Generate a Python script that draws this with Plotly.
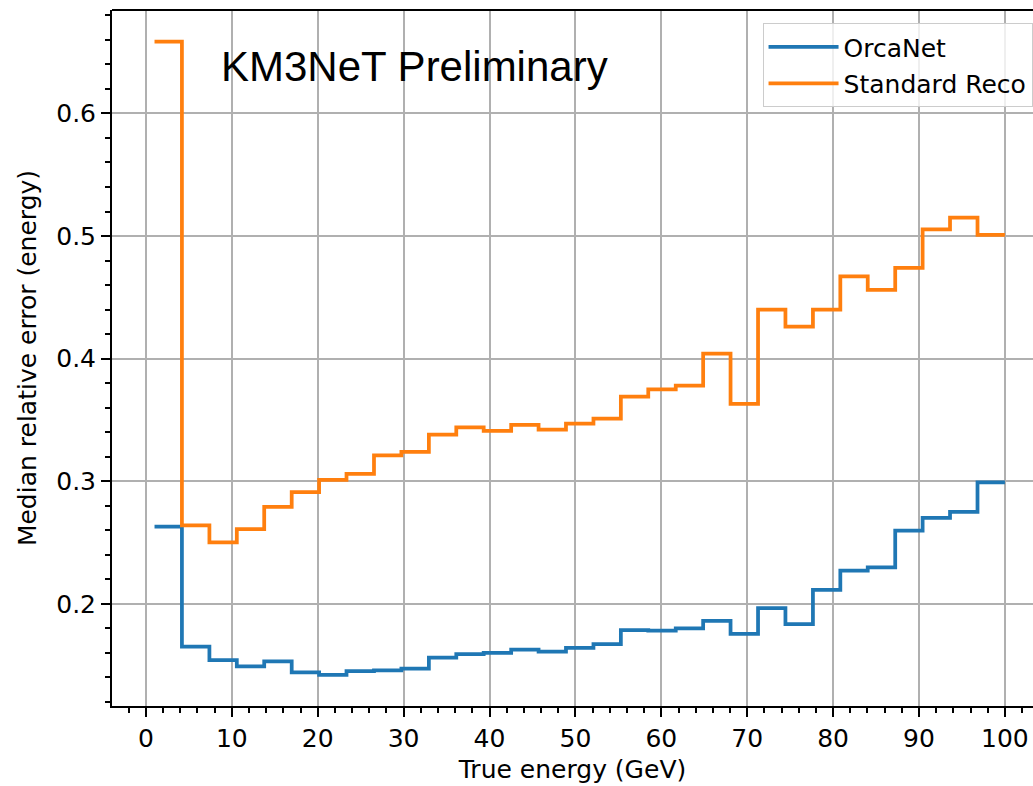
import plotly.graph_objects as go

# Bin edges (True energy, GeV) - 31 bins between 1 and 100
bin_edges = [1.00, 4.19, 7.39, 10.58, 13.77, 16.97, 20.16, 23.35, 26.55, 29.74,
             32.94, 36.13, 39.32, 42.52, 45.71, 48.90, 52.10, 55.29, 58.48, 61.68,
             64.87, 68.06, 71.26, 74.45, 77.65, 80.84, 84.03, 87.23, 90.42, 93.61,
             96.81, 100.00]

orcanet = [0.263, 0.165, 0.154, 0.149, 0.153, 0.144, 0.142, 0.145, 0.1456, 0.147,
           0.156, 0.159, 0.160, 0.1625, 0.161, 0.164, 0.167, 0.1785, 0.178, 0.180,
           0.186, 0.1755, 0.1965, 0.1834, 0.2114, 0.227, 0.2296, 0.2596, 0.270, 0.275,
           0.299]

standard_reco = [0.6586, 0.264, 0.250, 0.261, 0.279, 0.291, 0.301, 0.306, 0.321, 0.324,
                 0.338, 0.344, 0.341, 0.346, 0.342, 0.347, 0.351, 0.369, 0.375, 0.378,
                 0.404, 0.363, 0.440, 0.426, 0.440, 0.467, 0.456, 0.474, 0.5055, 0.515,
                 0.501]

series_names = ["OrcaNet", "Standard Reco"]
series_colors = ["#1f77b4", "#ff7f0e"]
y_ticks = [0.2, 0.3, 0.4, 0.5, 0.6]
x_ticks = [0, 10, 20, 30, 40, 50, 60, 70, 80, 90, 100]

FONT = "DejaVu Sans"
FS = 25

fig = go.Figure()
for i, (name, vals) in enumerate(zip(series_names, [orcanet, standard_reco])):
    fig.add_trace(go.Scatter(
        x=bin_edges,
        y=list(vals) + [vals[-1]],
        mode="lines",
        line=dict(shape="hv", color=series_colors[i], width=3.75),
        name=name,
        legendgroup=name,
    ))

fig.add_annotation(
    x=8.45, y=0.6387, xref="x", yref="y",
    text="KM3NeT Preliminary", showarrow=False,
    xanchor="left", yanchor="middle",
    font=dict(family="Liberation Sans", size=42, color="black"),
)

axis_common = dict(
    showline=True, linecolor="black", linewidth=2,
    ticks="outside", ticklen=9, tickwidth=2, tickcolor="black",
    showgrid=True, gridcolor="#b0b0b0", gridwidth=2,
    zeroline=False,
    tickfont=dict(family=FONT, size=FS, color="black"),
)

fig.update_xaxes(
    range=[-3.95, 103.27],
    tickvals=x_ticks,
    mirror=False,
    minor=dict(dtick=2, tick0=0, ticklen=5, tickwidth=1.5, tickcolor="black",
               ticks="outside", showgrid=False),
    title=dict(text="True energy (GeV)", font=dict(family=FONT, size=FS, color="black"),
               standoff=8),
    **axis_common,
)
fig.update_yaxes(
    range=[0.1166, 0.6844],
    tickvals=y_ticks,
    tickformat=".1f",
    minor=dict(dtick=0.02, tick0=0, ticklen=5, tickwidth=1.5, tickcolor="black",
               ticks="outside", showgrid=False),
    title=dict(text="Median relative error (energy)", font=dict(family=FONT, size=FS, color="black"),
               standoff=12),
    **axis_common,
)

# top spine (no right spine visible in the reference)
fig.add_shape(type="line", xref="paper", yref="paper", x0=0, x1=1, y0=1, y1=1,
              line=dict(color="black", width=2))

fig.update_layout(
    width=1033, height=786,
    margin=dict(l=112, r=0, t=10, b=80, autoexpand=False),
    plot_bgcolor="white", paper_bgcolor="white",
    showlegend=True,
    legend=dict(
        x=0.9995, y=0.981, xanchor="right", yanchor="top",
        bgcolor="rgba(255,255,255,0.8)", bordercolor="#cccccc", borderwidth=1,
        font=dict(family=FONT, size=FS, color="black"),
        tracegroupgap=1,
        itemwidth=70,
    ),
)

fig.write_html("out.html")
